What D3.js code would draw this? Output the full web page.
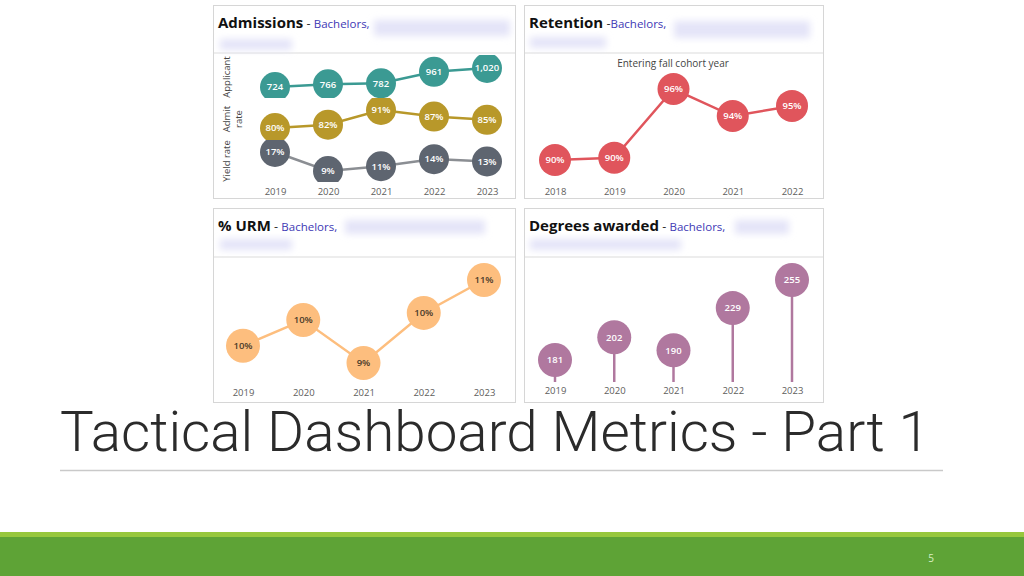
<!DOCTYPE html>
<html><head><meta charset="utf-8">
<script src="https://cdn.jsdelivr.net/npm/d3@7"></script>
<style>
html,body{margin:0;padding:0;background:#fff;}
svg{display:block;}
</style></head>
<body>
<svg id="c" width="1024" height="576"></svg>
<script>
// ---------- data ----------
const admYears = [2019, 2020, 2021, 2022, 2023];
const applicants = [724, 766, 782, 961, 1020];
const admitRate = [80, 82, 91, 87, 85];
const yieldRate = [17, 9, 11, 14, 13];
const retYears = [2018, 2019, 2020, 2021, 2022];
const retention = [89.7, 89.9, 96.0, 93.6, 94.5];
const urmYears = [2019, 2020, 2021, 2022, 2023];
const urm = [9.68, 10.04, 9.44, 10.14, 10.6];
const degYears = [2019, 2020, 2021, 2022, 2023];
const degrees = [181, 202, 190, 229, 255];
const rowLabels = ["Applicant", "Admit rate", "Yield rate"];
const titleText = "Tactical Dashboard Metrics - Part 1";

const svg = d3.select("#c");
const F = "'Open Sans','Noto Sans',sans-serif";
const defs = svg.append("defs");
defs.append("filter").attr("id","blur").attr("x","-30%").attr("y","-80%").attr("width","160%").attr("height","260%")
  .append("feGaussianBlur").attr("stdDeviation", 3.5);

// ---------- panels ----------
function panel(x0, y0, w, h, sepY, title, dash, blurs) {
  const g = svg.append("g");
  g.append("rect").attr("x", x0+0.5).attr("y", y0+0.5).attr("width", w).attr("height", h)
    .attr("fill", "#fff").attr("stroke", "#d6d6d6");
  g.append("line").attr("x1", x0+1).attr("x2", x0+w).attr("y1", sepY).attr("y2", sepY)
    .attr("stroke", "#ededed").attr("stroke-width", 2);
  blurs.forEach(b => g.append("rect").attr("x", b[0]).attr("y", b[1]).attr("width", b[2]).attr("height", b[3])
    .attr("fill", "#e4e4f8").attr("filter", "url(#blur)"));
  const t = g.append("text").attr("x", x0+5).attr("y", y0+23).attr("font-family", F).attr("xml:space","preserve");
  t.append("tspan").text(title).attr("font-weight", 700).attr("font-size", 15).attr("fill", "#111");
  t.append("tspan").text(dash).attr("font-size", 12.5).attr("fill", "#333");
  t.append("tspan").text("Bachelors,").attr("font-size", 11.5).attr("fill", "#3e38b5");
  return g;
}
panel(213, 5, 302, 193, 53, "Admissions", " - ", [[374,20,136,16],[220,39,72,11]]);
panel(524, 5, 299, 193, 53, "Retention", " -", [[674,21,136,17],[530,37,76,11]]);
panel(213, 208, 302, 194, 257, "% URM", " - ", [[345,220,140,14],[220,239,72,11]]);
panel(524, 208, 299, 194, 257, "Degrees awarded", " - ", [[735,220,54,14],[530,239,151,11]]);

function yearAxis(x, ty) {
  const ax = svg.append("g").attr("transform", `translate(0,${ty})`)
    .call(d3.axisBottom(x).tickSize(0).tickPadding(0));
  ax.select(".domain").remove();
  ax.selectAll("text").attr("font-family", F).attr("font-size", 9.5).attr("fill", "#605e5c");
}

function lineSeries(g, x, y, yrs, vals, col, lineCol, r, fmt, txtCol, lw) {
  const pts = yrs.map((d, i) => [x(d), y(vals[i]), vals[i]]);
  g.append("path").attr("d", d3.line()(pts.map(p => [p[0], p[1]])))
    .attr("fill", "none").attr("stroke", lineCol).attr("stroke-width", lw);
  g.selectAll(null).data(pts).join("circle")
    .attr("cx", d => d[0]).attr("cy", d => d[1]).attr("r", r).attr("fill", col);
  g.selectAll(null).data(pts).join("text")
    .attr("x", d => d[0]).attr("y", d => d[1]).attr("dy", "0.35em")
    .attr("text-anchor", "middle").attr("font-family", F).attr("font-size", 9.5)
    .attr("font-weight", 600).attr("fill", txtCol).text(d => fmt(d[2]));
}
const pct = v => Math.round(v) + "%";

// ---------- Admissions ----------
const xA = d3.scalePoint().domain(admYears).range([275, 487]);
const rows = [
  {vals: applicants, range: [87, 68], clip: [55, 98], col: "#3b9a93", line: "#3b9a93", fmt: d3.format(",")},
  {vals: admitRate, range: [128, 110], clip: [98, 140], col: "#b8982a", line: "#b8982a", fmt: pct},
  {vals: yieldRate, range: [171, 152], clip: [140, 182], col: "#5e6570", line: "#8b8e93", fmt: pct}
];
rows.forEach((r, i) => {
  const id = "clip" + i;
  defs.append("clipPath").attr("id", id).append("rect")
    .attr("x", 250).attr("y", r.clip[0]).attr("width", 262).attr("height", r.clip[1] - r.clip[0]);
  const y = d3.scaleLinear().domain(d3.extent(r.vals)).range(r.range);
  const g = svg.append("g").attr("clip-path", `url(#${id})`);
  lineSeries(g, xA, y, admYears, r.vals, r.col, r.line, 15, r.fmt, "#fff", 2.5);
});
// row labels
const rl = svg.append("g").attr("font-family", F).attr("font-size", 9.5).attr("fill", "#444");
rl.append("text").attr("transform", "translate(230,77) rotate(-90)").attr("text-anchor", "middle").text(rowLabels[0]);
const ar = rl.append("text").attr("transform", "translate(230,119) rotate(-90)").attr("text-anchor", "middle");
ar.append("tspan").attr("x", 0).attr("dy", 0).text(rowLabels[1].split(" ")[0]);
ar.append("tspan").attr("x", 0).attr("dy", 12).text(rowLabels[1].split(" ")[1]);
rl.append("text").attr("transform", "translate(230,161) rotate(-90)").attr("text-anchor", "middle").text(rowLabels[2]);
yearAxis(xA, 188);

// ---------- Retention ----------
const xR = d3.scalePoint().domain(retYears).range([555, 792]);
const yR = d3.scaleLinear().domain(d3.extent(retention)).range([160, 89]);
svg.append("text").attr("x", 673).attr("y", 67).attr("text-anchor", "middle")
  .attr("font-family", F).attr("font-size", 10).attr("fill", "#444").text("Entering fall cohort year");
lineSeries(svg.append("g"), xR, yR, retYears, retention, "#e0555c", "#e0555c", 16, pct, "#fff", 2.5);
yearAxis(xR, 188);

// ---------- % URM ----------
const xU = d3.scalePoint().domain(urmYears).range([243, 484]);
const yU = d3.scaleLinear().domain(d3.extent(urm)).range([363, 280]);
lineSeries(svg.append("g"), xU, yU, urmYears, urm, "#fdbe7e", "#fdbe7e", 17, pct, "#4a3a2a", 2.5);
yearAxis(xU, 389.5);

// ---------- Degrees awarded ----------
const xD = d3.scalePoint().domain(degYears).range([555, 792]);
const yD = d3.scaleLinear().domain(d3.extent(degrees)).range([360, 280]);
const gD = svg.append("g");
gD.selectAll(null).data(degYears).join("line")
  .attr("x1", d => xD(d)).attr("x2", d => xD(d))
  .attr("y1", (d, i) => yD(degrees[i])).attr("y2", 382)
  .attr("stroke", "#b0789f").attr("stroke-width", 2.5);
gD.selectAll(null).data(degYears).join("circle")
  .attr("cx", d => xD(d)).attr("cy", (d, i) => yD(degrees[i])).attr("r", 17).attr("fill", "#b0789f");
gD.selectAll(null).data(degYears).join("text")
  .attr("x", d => xD(d)).attr("y", (d, i) => yD(degrees[i])).attr("dy", "0.35em")
  .attr("text-anchor", "middle").attr("font-family", F).attr("font-size", 9.5).attr("font-weight", 600)
  .attr("fill", "#fff").text((d, i) => degrees[i]);
yearAxis(xD, 387.5);

// ---------- slide title ----------
svg.append("text").attr("x", 60).attr("y", 451).attr("font-family", "Roboto, 'Open Sans', sans-serif").attr("font-weight", 300)
  .attr("font-size", 55).attr("fill", "#2b2b2b").attr("textLength", 870).attr("lengthAdjust", "spacingAndGlyphs")
  .text(titleText);
svg.append("line").attr("x1", 60).attr("x2", 943).attr("y1", 470.5).attr("y2", 470.5)
  .attr("stroke", "#c9c9c9").attr("stroke-width", 1.5);

// ---------- footer ----------
svg.append("rect").attr("x", 0).attr("y", 532).attr("width", 1024).attr("height", 6).attr("fill", "#97c73d");
svg.append("rect").attr("x", 0).attr("y", 537).attr("width", 1024).attr("height", 39).attr("fill", "#5ea336");
svg.append("text").attr("x", 931).attr("y", 562).attr("text-anchor", "middle").attr("font-family", F)
  .attr("font-size", 10).attr("fill", "#d9f0c4").text("5");
</script>
</body></html>
